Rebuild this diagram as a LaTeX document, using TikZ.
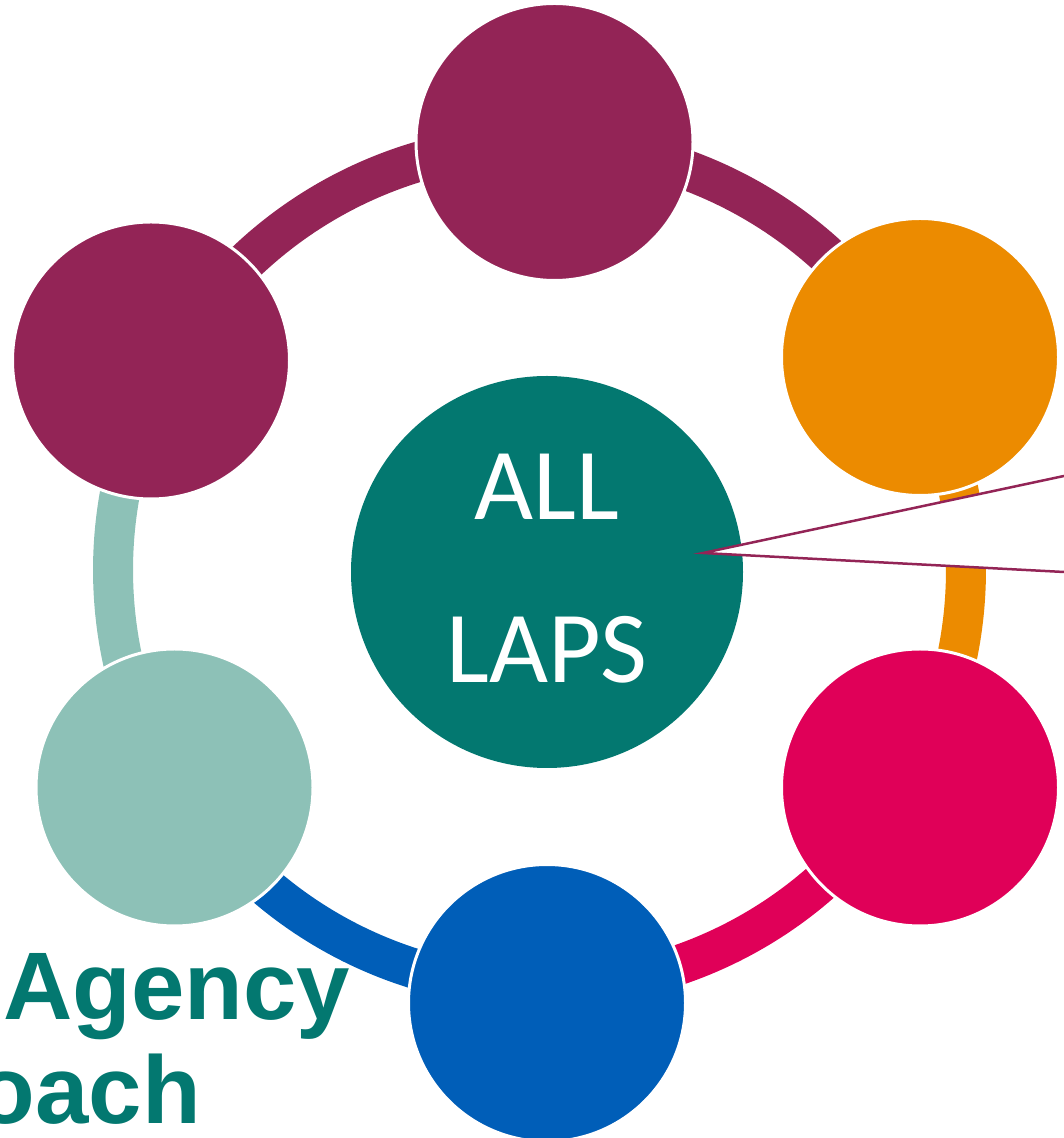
\documentclass[tikz,border=0pt]{standalone}
\usepackage{fontspec}
\newfontfamily\capfont{Carlito}
\newfontfamily\labfont{Liberation Sans}
\definecolor{cpurple}{HTML}{932456}
\definecolor{corange}{HTML}{EC8B00}
\definecolor{cpink}{HTML}{E00058}
\definecolor{cblue}{HTML}{005EB8}
\definecolor{cmint}{HTML}{8DC1B7}
\definecolor{cteal}{HTML}{037870}
\begin{document}
\begin{tikzpicture}[x=1pt,y=1pt,
  bubble/.style={circle, minimum size=277pt, inner sep=0pt, draw=white, line width=3pt, fill=#1},
  band/.style={line width=40pt, draw=#1},
  hubtext/.style={font=\capfont\fontsize{102}{102}\selectfont, text=white, anchor=base, inner sep=0pt},
  labtext/.style={font=\labfont\bfseries\fontsize{96}{96}\selectfont, text=cteal, inner sep=0pt},
  wedge/.style={draw=cpurple, fill=white, line width=2.5pt, line join=miter}]
\useasboundingbox (0,0) rectangle (1064,1138);
\clip (0,0) rectangle (1064,1138);
\coordinate (ring) at (540,568);
\coordinate (ringlow) at (541,574);
% ring segments
\draw[band=cpurple] (ring) ++(151.8:426) arc[start angle=151.8, end angle=88.3, radius=426];
\draw[band=cpurple] (ring) ++(88.3:426) arc[start angle=88.3, end angle=29.4, radius=426];
\draw[band=corange] (ring) ++(29.4:426) arc[start angle=29.4, end angle=-29.9, radius=426];
\draw[band=cpink] (ringlow) ++(-29.9:424) arc[start angle=-29.9, end angle=-89.3, radius=424];
\draw[band=cblue] (ringlow) ++(-89.3:424) arc[start angle=-89.3, end angle=-149.4, radius=424];
\draw[band=cmint] (ring) ++(210.6:427) arc[start angle=210.6, end angle=151.8, radius=427];
% outer circles
\node[bubble=cpurple] (top) at (554.5,996) {};
\node[bubble=corange] (ur) at (920,781) {};
\node[bubble=cpink] (lr) at (920,350.5) {};
\node[bubble=cblue] (bot) at (547,135) {};
\node[bubble=cmint] (ll) at (174.5,350.5) {};
\node[bubble=cpurple] (ul) at (151,777.5) {};
% hub
\node[circle, minimum size=392pt, inner sep=0pt, fill=cteal] (hub) at (547,566) {};
\node[hubtext] (t1) at (547,618) {ALL};
\node[hubtext] (t2) at (547,455) {LAPS};
% wedge
\coordinate (tip) at (703,585);
\coordinate (wu) at (1100,669.7);
\coordinate (wl) at (1100,564.1);
\draw[wedge] (tip) -- (wu) -- (wl) -- cycle;
% label
\node[labtext, anchor=base west] (lab1) at (3,118) {Agency};
\node[labtext, anchor=base east] (lab2) at (201,14) {Approach};
\end{tikzpicture}
\end{document}
